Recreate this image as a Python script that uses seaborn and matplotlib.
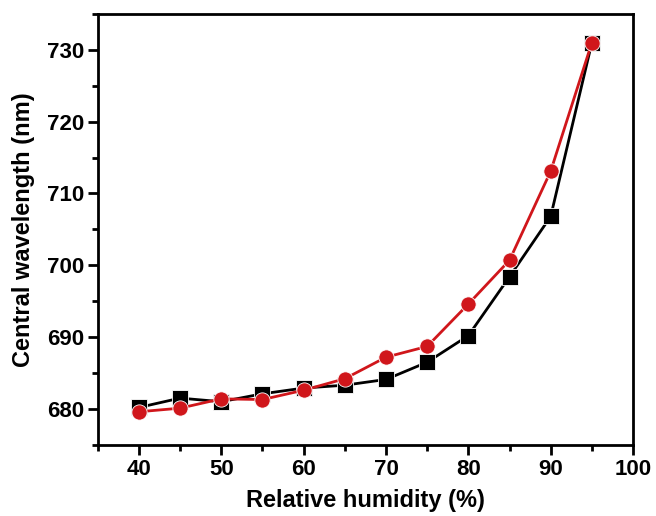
import numpy as np
import pandas as pd
import matplotlib
matplotlib.use("Agg")
import matplotlib.pyplot as plt
import seaborn as sns
from matplotlib.ticker import MultipleLocator

humidity = [40, 45, 50, 55, 60, 65, 70, 75, 80, 85, 90, 95]
black_series = [680.2, 681.5, 681.0, 682.1, 682.9, 683.3, 684.1, 686.5, 690.2, 698.4, 706.8, 731.0]
red_series = [679.6, 680.1, 681.4, 681.3, 682.6, 684.2, 687.2, 688.7, 694.6, 700.7, 713.1, 731.0]

df = pd.DataFrame({
    "x": humidity * 2,
    "y": black_series + red_series,
    "s": ["black"] * len(humidity) + ["red"] * len(humidity),
})

sns.set_theme(style="ticks")
plt.rcParams['font.family'] = ['Liberation Sans', 'DejaVu Sans']
plt.rcParams['font.weight'] = 'bold'
plt.rcParams['text.color'] = 'black'
plt.rcParams['axes.labelcolor'] = 'black'
plt.rcParams['xtick.color'] = 'black'
plt.rcParams['ytick.color'] = 'black'
plt.rcParams['axes.edgecolor'] = 'black'

fig = plt.figure(figsize=(6.56, 5.16), dpi=100)
ax = fig.add_axes([0.149, 0.138, 0.816, 0.835])

sns.lineplot(data=df, x="x", y="y", hue="s", style="s",
             palette={"black": "#000000", "red": "#d0161b"},
             markers={"black": "s", "red": "o"}, dashes=False,
             markersize=11, linewidth=2, markeredgecolor="white",
             markeredgewidth=0.6, legend=False, ax=ax)

ax.set_xlim(35, 100)
ax.set_ylim(675, 735)
ax.xaxis.set_major_locator(MultipleLocator(10))
ax.xaxis.set_minor_locator(MultipleLocator(5))
ax.yaxis.set_major_locator(MultipleLocator(10))
ax.yaxis.set_minor_locator(MultipleLocator(5))
ax.set_yticks([680, 690, 700, 710, 720, 730])
ax.tick_params(which="major", direction="out", length=7, width=2, labelsize=16, pad=3,
               colors="black")
ax.tick_params(which="minor", direction="out", length=4, width=2, colors="black")
for lab in ax.get_xticklabels() + ax.get_yticklabels():
    lab.set_fontweight("bold")
for sp in ax.spines.values():
    sp.set_linewidth(2)
    sp.set_visible(True)
    sp.set_color("black")

ax.set_xlabel("Relative humidity (%)", fontsize=17, fontweight="bold", labelpad=7, color="black")
ax.set_ylabel("Central wavelength (nm)", fontsize=17, fontweight="bold", labelpad=8, color="black")

fig.savefig("out.png", dpi=100)
